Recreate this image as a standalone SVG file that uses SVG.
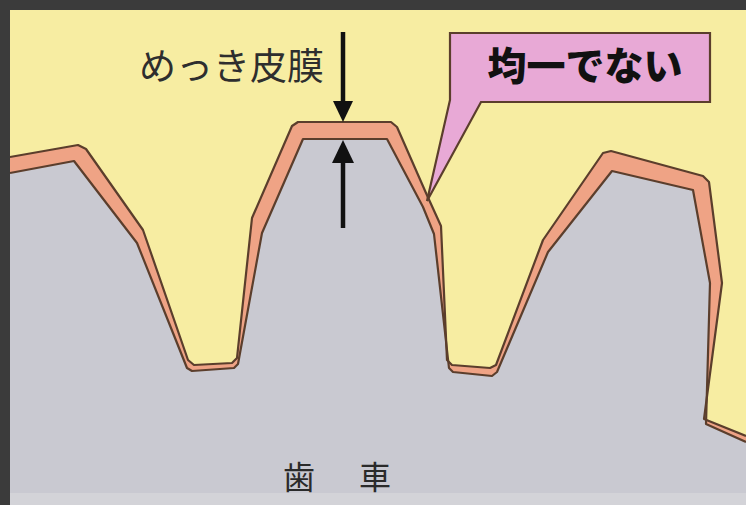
<svg xmlns="http://www.w3.org/2000/svg" width="746" height="505" viewBox="0 0 746 505">
  <defs>
    <style>
      .line { fill: none; stroke: #5b3e2c; stroke-width: 2.2; stroke-linejoin: round; }
      .coat { fill: #efa385; }
      .gear { fill: #c9c9d1; }
      .arrow { stroke: #111; stroke-width: 4.5; }
      .head { fill: #111; }
      .jp { font-family: "Noto Sans CJK JP", "Noto Sans", sans-serif; }
    </style>
  </defs>

  <!-- frame and background -->
  <rect x="0" y="0" width="746" height="505" fill="#3b3b3b"/>
  <rect x="10" y="10" width="736" height="495" fill="#f7eda2"/>

  <!-- gear section with plating layer -->
  <g id="gear">
    <!-- plating surface -->
    <path class="coat" d="M10,157 L78,145 L86,149 L143,230 L188,360 L194,365 L232,363 L237,358 L252,218 L292,126 L298,122 L391,122 L397,127 L426,193 L441,226 L447,360 L452,365 L490,368 L496,365 L543,240 L603,153 L611,151 L703,176 L709,182 L722,283 L704,419 L746,436 L746,493 L10,493 Z"/>
    <!-- base metal -->
    <path class="gear" d="M10,173 L74,161 L137,243 L187,368 L192,371 L234,368 L238,364 L262,233 L303,139 L387,139 L423,207 L434,234 L449,368 L453,372 L492,376 L497,372 L548,252 L612,171 L693,190 L710,283 L706,424 L746,442 L746,493 L10,493 Z"/>
    <polyline class="line" points="10,157 78,145 86,149 143,230 188,360 194,365 232,363 237,358 252,218 292,126 298,122 391,122 397,127 426,193 441,226 447,360 452,365 490,368 496,365 543,240 603,153 611,151 703,176 709,182 722,283 704,419 746,436"/>
    <polyline class="line" points="10,173 74,161 137,243 187,368 192,371 234,368 238,364 262,233 303,139 387,139 423,207 434,234 449,368 453,372 492,376 497,372 548,252 612,171 693,190 710,283 706,424 746,442"/>
    <rect x="10" y="493" width="736" height="12" fill="#d3d3d8"/>
    <text class="jp" x="283 359" y="489" font-size="32" fill="#2a2a2a">歯車</text>
  </g>

  <!-- plating thickness label with arrows -->
  <g id="thickness">
    <text class="jp" x="139" y="80" font-size="37" fill="#2e2e2e">めっき皮膜</text>
    <line class="arrow" x1="343" y1="32" x2="343" y2="104"/>
    <polygon class="head" points="333,101 353,101 343,122"/>
    <line class="arrow" x1="343" y1="158" x2="343" y2="228"/>
    <polygon class="head" points="332,163 354,163 343,140"/>
  </g>

  <!-- callout -->
  <g id="callout">
    <path d="M450,33 L710,33 L710,102 L481,102 L427,201 L450,100 Z" fill="#e8a9d6" stroke="#5b3e2c" stroke-width="2.2" stroke-linejoin="miter"/>
    <text class="jp" x="585" y="80" font-size="39" font-weight="900" fill="#111" text-anchor="middle">均一でない</text>
  </g>
</svg>
